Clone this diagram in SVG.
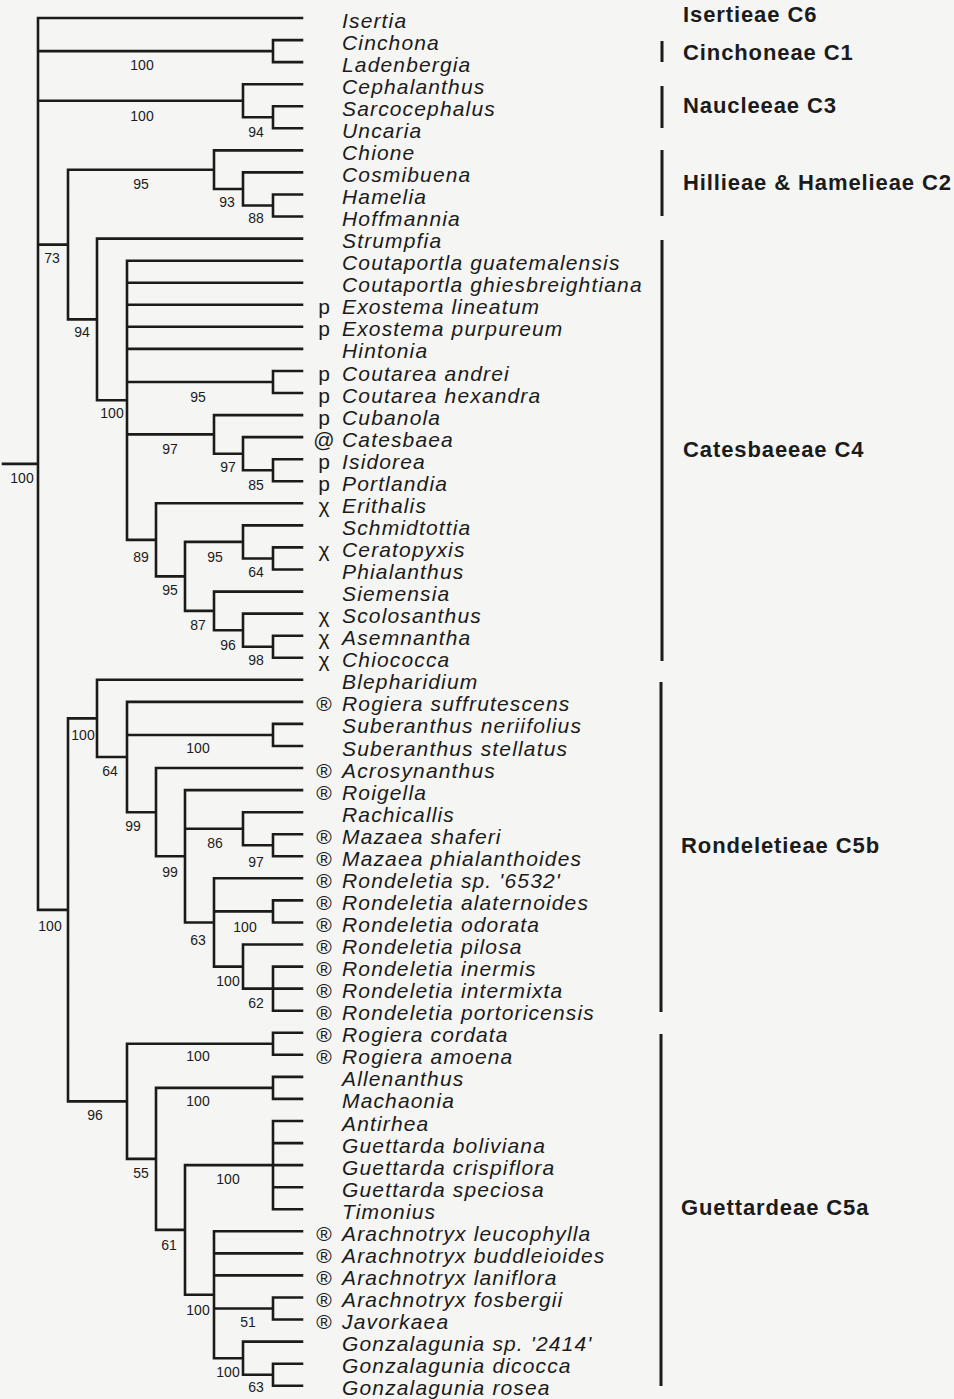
<svg xmlns="http://www.w3.org/2000/svg" width="954" height="1399" viewBox="0 0 954 1399">
<style>
.br{fill:none;stroke:#1b1b1b;stroke-width:2.6;stroke-linecap:square}
.tx{font-family:"Liberation Sans",Arial,sans-serif;font-style:italic;font-size:21px;letter-spacing:1.15px;fill:#1b1b1b}
.sy{font-family:"Liberation Sans",Arial,sans-serif;font-size:21px;fill:#1b1b1b;text-anchor:middle}
.bs{font-family:"Liberation Sans",Arial,sans-serif;font-size:14px;fill:#1b1b1b;text-anchor:middle}
.gl{font-family:"Liberation Sans",Arial,sans-serif;font-weight:bold;font-size:22px;letter-spacing:0.9px;fill:#1b1b1b}
.bar{stroke:#1b1b1b;stroke-width:3}
</style>
<rect width="954" height="1399" fill="#f5f5f3"/>
<g id="connectors">
<path class="br" d="M3 463.9H38 M38 18V909.9 M38 18H302
M38 51.1H273 M273 40.1V62.1 M273 40.1H302 M273 62.1H302
M38 100.7H243 M243 84.2V117.3 M243 84.2H302 M243 117.3H273 M273 106.2V128.3 M273 106.2H302 M273 128.3H302
M38 244.6H68 M68 169.7V319.4
M68 169.7H214 M214 150.4V189 M214 150.4H302 M214 189H243 M243 172.4V205.5 M243 172.4H302 M243 205.5H273 M273 194.5V216.5 M273 194.5H302 M273 216.5H302
M68 319.4H97 M97 238.6V400.3 M97 238.6H302 M97 400.3H127
M127 260.7V539.9 M127 260.7H302 M127 282.7H302 M127 304.8H302 M127 326.8H302 M127 348.9H302
M127 382H273 M273 371V393 M273 371H302 M273 393H302
M127 434.4H214 M214 415.1V453.7 M214 415.1H302 M214 453.7H243 M243 437.1V470.2 M243 437.1H302 M243 470.2H273 M273 459.2V481.3 M273 459.2H302 M273 481.3H302
M127 539.9H156 M156 503.3V576.4 M156 503.3H302 M156 576.4H185 M185 541.9V610.9
M185 541.9H243 M243 525.4V558.5 M243 525.4H302 M243 558.5H273 M273 547.4V569.5 M273 547.4H302 M273 569.5H302
M185 610.9H214 M214 591.6V630.2 M214 591.6H302 M214 630.2H243 M243 613.6V646.7 M243 613.6H302 M243 646.7H273 M273 635.7V657.7 M273 635.7H302 M273 657.7H302
M38 909.9H68 M68 718.4V1101.4
M68 718.4H97 M97 679.8V757 M97 679.8H302 M97 757H127
M127 701.9V812.2 M127 701.9H302 M127 735H273 M273 723.9V746 M273 723.9H302 M273 746H302 M127 812.2H156
M156 768V856.3 M156 768H302 M156 856.3H185
M185 790.1V922.5 M185 790.1H302 M185 828.7H243 M243 812.2V845.3 M243 812.2H302 M243 845.3H273 M273 834.2V856.3 M273 834.2H302 M273 856.3H302 M185 922.5H214
M214 878.3V966.6 M214 878.3H302 M214 911.4H273 M273 900.4V922.5 M273 900.4H302 M273 922.5H302 M214 966.6H243 M243 944.5V988.6 M243 944.5H302 M243 988.6H273 M273 966.6V1010.7 M273 966.6H302 M273 988.6H302 M273 1010.7H302
M68 1101.4H127 M127 1043.8V1158.9 M127 1043.8H273 M273 1032.8V1054.8 M273 1032.8H302 M273 1054.8H302 M127 1158.9H156
M156 1087.9V1229.9 M156 1087.9H273 M273 1076.9V1098.9 M273 1076.9H302 M273 1098.9H302 M156 1229.9H185
M185 1165.1V1294.7 M185 1165.1H273 M273 1121V1209.2 M273 1121H302 M273 1143.1H302 M273 1165.1H302 M273 1187.2H302 M273 1209.2H302 M185 1294.7H214
M214 1231.3V1358.2 M214 1231.3H302 M214 1253.4H302 M214 1275.4H302 M214 1308.5H273 M273 1297.5V1319.5 M273 1297.5H302 M273 1319.5H302 M214 1358.2H243 M243 1341.6V1374.7 M243 1341.6H302 M243 1374.7H273 M273 1363.7V1385.7 M273 1363.7H302 M273 1385.7H302"/>
</g>
<g id="support">
<text class="bs" x="22" y="483">100</text>
<text class="bs" x="142" y="70">100</text>
<text class="bs" x="142" y="121">100</text>
<text class="bs" x="256" y="137">94</text>
<text class="bs" x="141" y="189">95</text>
<text class="bs" x="227" y="207">93</text>
<text class="bs" x="256" y="223">88</text>
<text class="bs" x="52" y="263">73</text>
<text class="bs" x="82" y="337">94</text>
<text class="bs" x="198" y="402">95</text>
<text class="bs" x="112" y="418">100</text>
<text class="bs" x="170" y="454">97</text>
<text class="bs" x="228" y="472">97</text>
<text class="bs" x="256" y="490">85</text>
<text class="bs" x="141" y="562">89</text>
<text class="bs" x="215" y="562">95</text>
<text class="bs" x="256" y="577">64</text>
<text class="bs" x="170" y="595">95</text>
<text class="bs" x="198" y="630">87</text>
<text class="bs" x="228" y="650">96</text>
<text class="bs" x="256" y="665">98</text>
<text class="bs" x="83" y="740">100</text>
<text class="bs" x="198" y="753">100</text>
<text class="bs" x="110" y="776">64</text>
<text class="bs" x="133" y="831">99</text>
<text class="bs" x="215" y="848">86</text>
<text class="bs" x="256" y="867">97</text>
<text class="bs" x="170" y="877">99</text>
<text class="bs" x="50" y="931">100</text>
<text class="bs" x="245" y="932">100</text>
<text class="bs" x="198" y="945">63</text>
<text class="bs" x="228" y="986">100</text>
<text class="bs" x="256" y="1008">62</text>
<text class="bs" x="198" y="1061">100</text>
<text class="bs" x="198" y="1106">100</text>
<text class="bs" x="95" y="1120">96</text>
<text class="bs" x="141" y="1178">55</text>
<text class="bs" x="228" y="1184">100</text>
<text class="bs" x="169" y="1250">61</text>
<text class="bs" x="198" y="1315">100</text>
<text class="bs" x="248" y="1327">51</text>
<text class="bs" x="228" y="1377">100</text>
<text class="bs" x="256" y="1392">63</text>
</g>
<g id="taxa" transform="translate(0,1.5)">
<g id="t0"><text class="tx" x="342" y="26">Isertia</text></g>
<g id="t1"><text class="tx" x="342" y="48.1">Cinchona</text></g>
<g id="t2"><text class="tx" x="342" y="70.1">Ladenbergia</text></g>
<g id="t3"><text class="tx" x="342" y="92.2">Cephalanthus</text></g>
<g id="t4"><text class="tx" x="342" y="114.2">Sarcocephalus</text></g>
<g id="t5"><text class="tx" x="342" y="136.3">Uncaria</text></g>
<g id="t6"><text class="tx" x="342" y="158.4">Chione</text></g>
<g id="t7"><text class="tx" x="342" y="180.4">Cosmibuena</text></g>
<g id="t8"><text class="tx" x="342" y="202.5">Hamelia</text></g>
<g id="t9"><text class="tx" x="342" y="224.5">Hoffmannia</text></g>
<g id="t10"><text class="tx" x="342" y="246.6">Strumpfia</text></g>
<g id="t11"><text class="tx" x="342" y="268.7">Coutaportla guatemalensis</text></g>
<g id="t12"><text class="tx" x="342" y="290.7">Coutaportla ghiesbreightiana</text></g>
<g id="t13"><text class="sy" x="324" y="312.8">p</text><text class="tx" x="342" y="312.8">Exostema lineatum</text></g>
<g id="t14"><text class="sy" x="324" y="334.8">p</text><text class="tx" x="342" y="334.8">Exostema purpureum</text></g>
<g id="t15"><text class="tx" x="342" y="356.9">Hintonia</text></g>
<g id="t16"><text class="sy" x="324" y="379">p</text><text class="tx" x="342" y="379">Coutarea andrei</text></g>
<g id="t17"><text class="sy" x="324" y="401">p</text><text class="tx" x="342" y="401">Coutarea hexandra</text></g>
<g id="t18"><text class="sy" x="324" y="423.1">p</text><text class="tx" x="342" y="423.1">Cubanola</text></g>
<g id="t19"><text class="sy" x="324" y="445.1">@</text><text class="tx" x="342" y="445.1">Catesbaea</text></g>
<g id="t20"><text class="sy" x="324" y="467.2">p</text><text class="tx" x="342" y="467.2">Isidorea</text></g>
<g id="t21"><text class="sy" x="324" y="489.3">p</text><text class="tx" x="342" y="489.3">Portlandia</text></g>
<g id="t22"><text class="sy" x="324" y="511.3">χ</text><text class="tx" x="342" y="511.3">Erithalis</text></g>
<g id="t23"><text class="tx" x="342" y="533.4">Schmidtottia</text></g>
<g id="t24"><text class="sy" x="324" y="555.4">χ</text><text class="tx" x="342" y="555.4">Ceratopyxis</text></g>
<g id="t25"><text class="tx" x="342" y="577.5">Phialanthus</text></g>
<g id="t26"><text class="tx" x="342" y="599.6">Siemensia</text></g>
<g id="t27"><text class="sy" x="324" y="621.6">χ</text><text class="tx" x="342" y="621.6">Scolosanthus</text></g>
<g id="t28"><text class="sy" x="324" y="643.7">χ</text><text class="tx" x="342" y="643.7">Asemnantha</text></g>
<g id="t29"><text class="sy" x="324" y="665.7">χ</text><text class="tx" x="342" y="665.7">Chiococca</text></g>
<g id="t30"><text class="tx" x="342" y="687.8">Blepharidium</text></g>
<g id="t31"><text class="sy" x="324" y="709.9">®</text><text class="tx" x="342" y="709.9">Rogiera suffrutescens</text></g>
<g id="t32"><text class="tx" x="342" y="731.9">Suberanthus neriifolius</text></g>
<g id="t33"><text class="tx" x="342" y="754">Suberanthus stellatus</text></g>
<g id="t34"><text class="sy" x="324" y="776">®</text><text class="tx" x="342" y="776">Acrosynanthus</text></g>
<g id="t35"><text class="sy" x="324" y="798.1">®</text><text class="tx" x="342" y="798.1">Roigella</text></g>
<g id="t36"><text class="tx" x="342" y="820.2">Rachicallis</text></g>
<g id="t37"><text class="sy" x="324" y="842.2">®</text><text class="tx" x="342" y="842.2">Mazaea shaferi</text></g>
<g id="t38"><text class="sy" x="324" y="864.3">®</text><text class="tx" x="342" y="864.3">Mazaea phialanthoides</text></g>
<g id="t39"><text class="sy" x="324" y="886.3">®</text><text class="tx" x="342" y="886.3">Rondeletia sp. '6532'</text></g>
<g id="t40"><text class="sy" x="324" y="908.4">®</text><text class="tx" x="342" y="908.4">Rondeletia alaternoides</text></g>
<g id="t41"><text class="sy" x="324" y="930.5">®</text><text class="tx" x="342" y="930.5">Rondeletia odorata</text></g>
<g id="t42"><text class="sy" x="324" y="952.5">®</text><text class="tx" x="342" y="952.5">Rondeletia pilosa</text></g>
<g id="t43"><text class="sy" x="324" y="974.6">®</text><text class="tx" x="342" y="974.6">Rondeletia inermis</text></g>
<g id="t44"><text class="sy" x="324" y="996.6">®</text><text class="tx" x="342" y="996.6">Rondeletia intermixta</text></g>
<g id="t45"><text class="sy" x="324" y="1018.7">®</text><text class="tx" x="342" y="1018.7">Rondeletia portoricensis</text></g>
<g id="t46"><text class="sy" x="324" y="1040.8">®</text><text class="tx" x="342" y="1040.8">Rogiera cordata</text></g>
<g id="t47"><text class="sy" x="324" y="1062.8">®</text><text class="tx" x="342" y="1062.8">Rogiera amoena</text></g>
<g id="t48"><text class="tx" x="342" y="1084.9">Allenanthus</text></g>
<g id="t49"><text class="tx" x="342" y="1106.9">Machaonia</text></g>
<g id="t50"><text class="tx" x="342" y="1129">Antirhea</text></g>
<g id="t51"><text class="tx" x="342" y="1151.1">Guettarda boliviana</text></g>
<g id="t52"><text class="tx" x="342" y="1173.1">Guettarda crispiflora</text></g>
<g id="t53"><text class="tx" x="342" y="1195.2">Guettarda speciosa</text></g>
<g id="t54"><text class="tx" x="342" y="1217.2">Timonius</text></g>
<g id="t55"><text class="sy" x="324" y="1239.3">®</text><text class="tx" x="342" y="1239.3">Arachnotryx leucophylla</text></g>
<g id="t56"><text class="sy" x="324" y="1261.4">®</text><text class="tx" x="342" y="1261.4">Arachnotryx buddleioides</text></g>
<g id="t57"><text class="sy" x="324" y="1283.4">®</text><text class="tx" x="342" y="1283.4">Arachnotryx laniflora</text></g>
<g id="t58"><text class="sy" x="324" y="1305.5">®</text><text class="tx" x="342" y="1305.5">Arachnotryx fosbergii</text></g>
<g id="t59"><text class="sy" x="324" y="1327.5">®</text><text class="tx" x="342" y="1327.5">Javorkaea</text></g>
<g id="t60"><text class="tx" x="342" y="1349.6">Gonzalagunia sp. '2414'</text></g>
<g id="t61"><text class="tx" x="342" y="1371.7">Gonzalagunia dicocca</text></g>
<g id="t62"><text class="tx" x="342" y="1393.7">Gonzalagunia rosea</text></g>
</g>
<g id="groups">
<g id="g-isertieae"><text class="gl" x="683" y="22">Isertieae C6</text></g>
<g id="g-cinchoneae"><line class="bar" x1="662" y1="41" x2="662" y2="62"/><text class="gl" x="683" y="60">Cinchoneae C1</text></g>
<g id="g-naucleeae"><line class="bar" x1="662" y1="86" x2="662" y2="128"/><text class="gl" x="683" y="113">Naucleeae C3</text></g>
<g id="g-hillieae"><line class="bar" x1="662" y1="150" x2="662" y2="216"/><text class="gl" x="683" y="190">Hillieae &amp; Hamelieae C2</text></g>
<g id="g-catesbaeeae"><line class="bar" x1="662" y1="240" x2="662" y2="661"/><text class="gl" x="683" y="457">Catesbaeeae C4</text></g>
<g id="g-rondeletieae"><line class="bar" x1="661" y1="682" x2="661" y2="1012"/><text class="gl" x="681" y="853">Rondeletieae C5b</text></g>
<g id="g-guettardeae"><line class="bar" x1="661" y1="1034" x2="661" y2="1386"/><text class="gl" x="681" y="1215">Guettardeae C5a</text></g>
</g>
</svg>
